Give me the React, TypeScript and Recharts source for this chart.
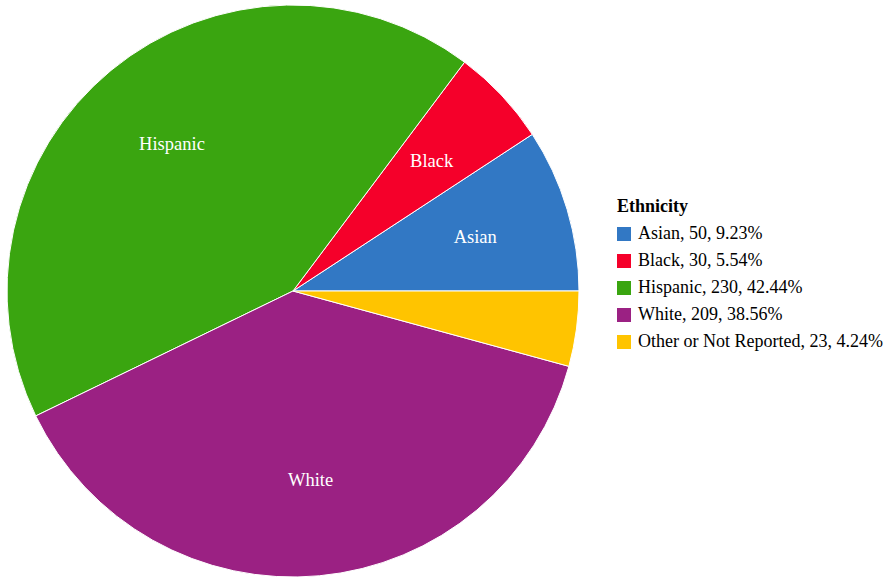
import { Legend, Pie, PieChart, Cell } from 'recharts'

const groups = ['Asian', 'Black', 'Hispanic', 'White', 'Other or Not Reported']
const counts = [50, 30, 230, 209, 23]
const shares = ['9.23%', '5.54%', '42.44%', '38.56%', '4.24%']
const colors = ['#3278c4', '#f5002a', '#3aa510', '#9b2183', '#ffc400']

const data = groups.map((name, i) => ({ name, value: counts[i], share: shares[i] }))

const FONT = '"Liberation Serif", "Times New Roman", serif'
const RAD = Math.PI / 180

function SliceLabel(props: any) {
  const { cx, cy, midAngle, outerRadius, percent, name } = props
  if (percent < 0.05) return null
  const r = outerRadius * 0.665
  const x = cx + r * Math.cos(-midAngle * RAD)
  const y = cy + r * Math.sin(-midAngle * RAD)
  return (
    <text x={x} y={y} fill="#fff" textAnchor="middle" dominantBaseline="central" fontSize={18.5} fontFamily={FONT}>
      {name}
    </text>
  )
}

function EthnicityLegend() {
  return (
    <div style={{ fontFamily: FONT, fontSize: 18, color: '#000' }}>
      <div style={{ fontWeight: 'bold', height: 27, lineHeight: '27px' }}>Ethnicity</div>
      {data.map((d, i) => (
        <div key={d.name} style={{ display: 'flex', alignItems: 'center', height: 27, whiteSpace: 'nowrap' }}>
          <span style={{ display: 'inline-block', width: 14, height: 14, background: colors[i], marginRight: 7, flexShrink: 0 }} />
          <span>{`${d.name}, ${d.value}, ${d.share}`}</span>
        </div>
      ))}
    </div>
  )
}

export default function App() {
  return (
    <div style={{ position: 'absolute', left: 0, top: 0, width: 888, height: 579, background: '#fff' }}>
      <PieChart width={888} height={579} margin={{ top: 0, right: 0, bottom: 0, left: 0 }}>
        <Pie
          data={data}
          dataKey="value"
          nameKey="name"
          cx={293}
          cy={291}
          outerRadius={286}
          startAngle={0}
          endAngle={360}
          stroke="#fff"
          strokeWidth={1}
          label={SliceLabel}
          labelLine={false}
          isAnimationActive={false}
        >
          {data.map((d, i) => (
            <Cell key={d.name} fill={colors[i]} />
          ))}
        </Pie>
        <Legend content={<EthnicityLegend />} wrapperStyle={{ position: 'absolute', left: 617, top: 193, width: 271 }} />
      </PieChart>
    </div>
  )
}
